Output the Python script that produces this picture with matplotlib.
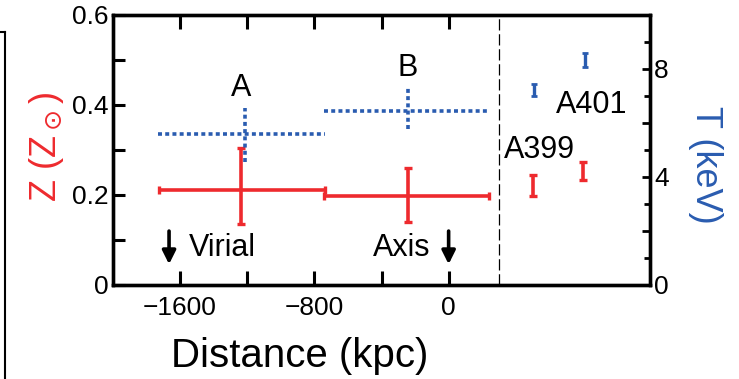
import numpy as np
import matplotlib.pyplot as plt
from matplotlib.lines import Line2D

plt.rcParams['font.family'] = ['Liberation Sans', 'DejaVu Sans']

"""Data"""
red  = '#ee2a2e'
blue = '#2a5cb0'

# metallicity Z (red), regions A and B
z_x     = [-1240, -245]
z_xlo   = [485, 495]          # distance to left end
z_xhi   = [505, 485]          # distance to right end
z_val   = [0.211, 0.198]
z_elo   = [0.075, 0.058]
z_ehi   = [0.093, 0.062]

# temperature T (blue, keV), regions A and B
t_x     = [-1212, -245]
t_xlo   = [518, 495]
t_xhi   = [478, 484]
t_val   = [5.59, 6.44]
t_elo   = [1.03, 0.66]
t_ehi   = [0.97, 0.89]

# cluster values A399, A401
cl_names = ['A399', 'A401']
cl_zx    = [500, 800]
cl_z     = [0.221, 0.253]
cl_zerr  = [0.023, 0.020]
cl_tx    = [510, 815]
cl_t     = [7.22, 8.33]
cl_terr  = [0.22, 0.26]

xticks      = [-1600, -1200, -800, -400, 0]
xticklabels = ['\u22121600', '', '\u2212800', '', '0']
zticks      = [0, 0.1, 0.2, 0.3, 0.4, 0.5, 0.6]
zticklabels = ['0', '', '0.2', '', '0.4', '', '0.6']

"""Figure"""
fig = plt.figure(figsize=(7.39, 3.79), dpi=100)
ax = fig.add_axes([113/739, 94/379, 537/739, 270/379])
ax2 = ax.twinx()

# red Z error bars
ax.errorbar(z_x, z_val, xerr=[z_xlo, z_xhi], yerr=[z_elo, z_ehi], fmt='none',
            ecolor=red, elinewidth=2.6, capsize=3, capthick=2.4)
ax.errorbar(cl_zx, cl_z, yerr=cl_zerr, fmt='none',
            ecolor=red, elinewidth=2.6, capsize=3, capthick=2.4)

# blue T error bars, dotted
eb = ax2.errorbar(t_x, t_val, xerr=[t_xlo, t_xhi], yerr=[t_elo, t_ehi], fmt='none',
                  ecolor=blue, elinewidth=2.6, capsize=0)
for lc in eb[2]:
    lc.set_linestyle((0, (1.1, 0.9)))
ax2.errorbar(cl_tx, cl_t, yerr=cl_terr, fmt='none',
             ecolor=blue, elinewidth=2.4, capsize=2, capthick=2)

# divider
ax.axvline(300, color='k', lw=0.9, dashes=(9, 3))

# labels in the plot
ax.text(-1235, 0.438, 'A', fontsize=22, ha='center', va='center')
ax.text(-245, 0.482, 'B', fontsize=22, ha='center', va='center')
ax.text(540, 0.300, 'A399', fontsize=22, ha='center', va='center')
ax.text(855, 0.400, 'A401', fontsize=22, ha='center', va='center')
ax.text(-1349, 0.082, 'Virial', fontsize=22, ha='center', va='center')
ax.text(-280, 0.082, 'Axis', fontsize=22, ha='center', va='center')

for xa in [-1666, 0]:
    ax.annotate('', xy=(xa, 0.040), xytext=(xa, 0.126),
                arrowprops=dict(arrowstyle='-|>', lw=2.6, color='k', mutation_scale=20))

"""Axes"""
ax.set_xlim(-2000, 1200)
ax.set_ylim(0, 0.6)
ax2.set_ylim(0, 10)
ax.set_xticks(xticks)
ax.set_xticklabels(xticklabels)
ax.set_yticks(zticks)
ax.set_yticklabels(zticklabels)
ax2.set_yticks([0, 2, 4, 6, 8, 10])
ax2.set_yticklabels(['0', '', '4', '', '8', ''])
ax2.set_yticks(np.arange(0, 11, 1), minor=True)

ax.tick_params(axis='x', direction='in', top=True, length=10, width=2.2, labelsize=19, pad=8)
ax.tick_params(axis='y', direction='in', length=8.5, width=2.2, labelsize=19, pad=3)
ax2.tick_params(axis='y', which='major', direction='in', length=6, width=2.0, labelsize=19, pad=3)
ax2.tick_params(axis='y', which='minor', direction='in', length=4, width=2.0)
for a in (ax, ax2):
    for s in a.spines.values():
        s.set_linewidth(2.4)

fig.text(47/739, 1-147/379, r'Z (Z$_\odot$)', rotation=90, color=red,
         fontsize=26, ha='center', va='center')
fig.text(705/739, 1-165/379, 'T (keV)', rotation=-90, color=blue,
         fontsize=26, ha='center', va='center')
fig.text(300/739, 1-356/379, 'Distance (kpc)', fontsize=29, ha='center', va='center')

# edge of the neighbouring panel
fig.add_artist(Line2D([5/739, 5/739], [0, 1-32/379], color='k', lw=1.5))
fig.add_artist(Line2D([0, 5/739], [1-32/379, 1-32/379], color='k', lw=1.5))

fig.savefig('out.png', dpi=100)
